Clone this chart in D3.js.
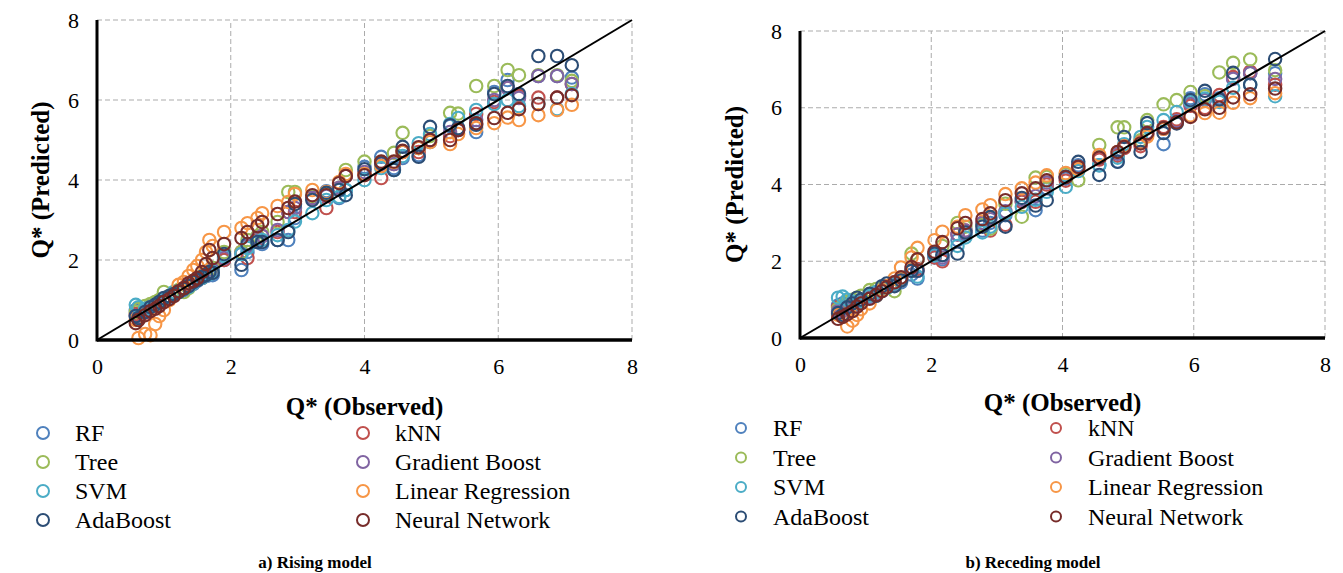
<!DOCTYPE html>
<html><head><meta charset="utf-8">
<script src="https://cdn.jsdelivr.net/npm/d3@7"></script>
<style>body{margin:0;background:#fff}svg{display:block}</style>
</head><body>
<svg id="c" width="1343" height="573"></svg>
<script>
// ---------- data ----------
const tickValues = [0, 2, 4, 6, 8];
const seriesNames = ["RF", "kNN", "Tree", "Gradient Boost", "SVM", "Linear Regression", "AdaBoost", "Neural Network"];
const seriesColors = ["#4F81BD", "#C0504D", "#9BBB59", "#8064A2", "#4BACC6", "#F79646", "#2C4D75", "#772C2A"];
const xTitle = "Q* (Observed)";
const yTitle = "Q* (Predicted)";
const captions = ["a) Rising model", "b) Receding model"];

// Rising model
const risingObserved = [0.58,0.62,0.72,0.8,0.87,0.93,1.0,1.08,1.15,1.22,1.3,1.37,1.44,1.5,1.57,1.63,1.68,1.73,1.9,2.16,2.25,2.4,2.47,2.7,2.86,2.96,3.22,3.43,3.62,3.72,4.0,4.25,4.44,4.57,4.81,4.98,5.28,5.4,5.67,5.94,6.14,6.31,6.6,6.88,7.1];
const risingRF   = [0.75,0.8,0.72,0.85,0.9,0.95,1.0,1.05,1.12,1.2,1.25,1.35,1.4,1.48,1.55,1.6,1.62,1.62,2.0,1.75,2.2,2.45,2.4,2.5,2.5,3.05,3.55,3.72,3.55,3.75,4.33,4.58,4.3,4.55,4.62,4.95,5.35,5.28,5.2,6.2,6.5,6.1,6.6,6.6,6.56];
const risingKNN  = [0.65,0.62,0.68,0.78,0.82,0.9,0.95,1.05,1.12,1.2,1.3,1.38,1.45,1.5,1.55,1.62,1.75,1.8,2.0,2.2,2.05,2.5,2.6,2.7,3.2,3.2,3.55,3.3,3.8,4.1,4.15,4.05,4.4,4.7,4.7,5.0,5.1,5.25,5.65,5.95,6.3,6.1,6.06,6.06,6.4];
const risingTree = [0.7,0.78,0.85,0.9,0.95,1.0,1.2,1.1,1.18,1.25,1.2,1.3,1.45,1.55,1.6,1.7,1.75,1.8,2.2,2.2,2.5,2.6,2.7,2.95,3.7,3.7,3.6,3.65,3.8,4.25,4.46,4.45,4.68,5.18,4.8,5.1,5.68,5.66,6.35,6.35,6.75,6.62,6.62,6.62,6.48];
const risingGB   = [0.6,0.58,0.7,0.75,0.85,0.9,1.0,1.05,1.12,1.2,1.28,1.35,1.42,1.5,1.58,1.65,1.7,1.75,2.05,2.15,2.35,2.55,2.6,2.75,3.2,3.3,3.55,3.6,3.8,4.1,4.2,4.4,4.4,4.7,4.8,5.0,5.2,5.25,5.5,6.0,6.3,6.05,6.6,6.6,6.4];
const risingSVM  = [0.88,0.82,0.78,0.82,0.88,0.92,1.02,1.08,1.2,1.22,1.28,1.32,1.42,1.5,1.55,1.62,1.65,1.7,2.1,2.15,2.3,2.45,2.5,2.62,2.75,2.96,3.17,3.5,3.58,3.75,4.0,4.3,4.25,4.6,4.92,5.15,5.4,5.55,5.75,5.9,6.0,5.85,5.9,5.77,6.15];
const risingLR   = [0.5,0.05,0.15,0.12,0.4,0.6,0.75,1.0,1.15,1.38,1.45,1.6,1.75,1.85,2.0,2.2,2.5,2.35,2.7,2.8,2.92,3.05,3.17,3.35,3.45,3.65,3.75,3.7,3.95,4.15,4.15,4.35,4.45,4.7,4.8,4.95,4.9,5.15,5.3,5.42,5.56,5.5,5.62,5.75,5.88];
const risingAda  = [0.6,0.55,0.7,0.82,0.88,0.95,1.05,1.1,1.15,1.2,1.28,1.35,1.45,1.5,1.58,1.62,1.7,1.68,2.15,1.88,2.4,2.45,2.45,2.5,2.7,3.4,3.5,3.68,3.75,3.62,4.27,4.42,4.25,4.83,4.58,5.33,5.37,5.3,5.38,6.15,6.35,6.15,7.1,7.1,6.87];
const risingNN   = [0.42,0.5,0.62,0.72,0.78,0.85,0.95,1.02,1.1,1.22,1.3,1.42,1.48,1.55,1.7,1.9,2.25,2.05,2.4,2.55,2.7,2.85,2.95,3.15,3.3,3.46,3.62,3.62,3.92,4.1,4.12,4.46,4.46,4.73,4.82,5.0,5.0,5.25,5.42,5.55,5.68,5.77,5.9,6.06,6.12];

// Receding model
const recedingObserved = [0.58,0.65,0.72,0.8,0.87,0.93,1.06,1.16,1.25,1.32,1.44,1.54,1.7,1.79,2.05,2.17,2.4,2.52,2.78,2.9,3.13,3.38,3.59,3.76,4.05,4.24,4.56,4.84,4.94,5.19,5.29,5.54,5.74,5.95,6.17,6.39,6.6,6.86,7.24];
const recedingRF   = [0.85,0.9,0.85,0.9,0.95,1.0,1.1,1.15,1.22,1.3,1.4,1.45,1.65,1.55,2.1,2.05,2.55,2.7,2.8,3.0,3.2,3.55,3.33,3.9,4.15,4.5,4.5,4.6,5.0,5.1,5.3,5.05,5.65,6.25,6.35,6.25,6.77,6.9,6.9];
const recedingKNN  = [0.8,0.75,0.75,0.85,0.9,0.95,1.05,1.15,1.25,1.35,1.45,1.5,1.75,1.8,2.1,2.0,2.7,2.8,3.0,2.8,2.95,3.55,3.55,4.0,4.1,4.4,4.65,4.75,4.95,5.0,5.3,5.5,5.7,6.05,6.0,6.33,6.8,6.94,6.6];
const recedingTree = [0.75,0.85,0.95,1.0,1.05,1.1,1.25,1.28,1.3,1.32,1.22,1.55,2.2,2.05,2.2,2.4,3.0,2.9,2.95,2.85,3.5,3.16,4.18,4.2,4.27,4.11,5.03,5.49,5.49,5.15,5.68,6.09,6.2,6.41,6.3,6.92,7.17,7.26,6.98];
const recedingGB   = [0.7,0.7,0.75,0.8,0.88,0.95,1.05,1.15,1.25,1.32,1.4,1.52,1.8,1.75,2.15,2.1,2.7,2.8,3.0,3.1,3.3,3.6,3.7,4.05,4.2,4.45,4.7,4.8,5.0,5.1,5.35,5.45,5.65,6.1,6.2,6.2,6.75,6.9,6.75];
const recedingSVM  = [1.05,1.08,1.0,0.95,0.9,0.98,1.1,1.2,1.25,1.3,1.42,1.5,1.75,1.6,2.15,2.16,2.4,2.62,2.75,2.9,3.25,3.42,3.6,3.81,3.94,4.35,4.5,4.7,5.05,5.24,5.5,5.68,5.89,6.15,6.24,6.15,6.52,6.6,6.3];
const recedingLR   = [0.6,0.55,0.3,0.45,0.6,0.75,0.9,1.1,1.25,1.35,1.55,1.84,2.1,2.35,2.55,2.77,2.9,3.2,3.35,3.46,3.75,3.9,4.05,4.24,4.3,4.4,4.77,4.85,5.0,5.1,5.25,5.45,5.6,5.8,5.86,5.87,6.13,6.25,6.38];
const recedingAda  = [0.65,0.6,0.8,0.9,1.05,1.0,1.15,1.1,1.35,1.42,1.35,1.5,1.75,1.75,2.2,2.16,2.2,2.75,2.9,3.15,2.9,3.65,3.45,3.59,4.2,4.59,4.25,4.59,5.24,4.85,5.6,5.34,5.59,6.2,6.44,6.22,6.91,6.6,7.27];
const recedingNN   = [0.5,0.55,0.62,0.7,0.82,0.9,1.02,1.12,1.22,1.32,1.45,1.58,1.85,2.05,2.25,2.5,2.86,3.0,3.1,3.25,3.59,3.77,3.9,4.11,4.19,4.46,4.7,4.85,4.98,5.07,5.34,5.47,5.62,5.76,5.96,6.0,6.27,6.35,6.5];

const risingSeries = [risingRF, risingKNN, risingTree, risingGB, risingSVM, risingLR, risingAda, risingNN];
const recedingSeries = [recedingRF, recedingKNN, recedingTree, recedingGB, recedingSVM, recedingLR, recedingAda, recedingNN];

// ---------- drawing ----------
const svg = d3.select("#c");
const serif = "'Liberation Serif', 'Times New Roman', serif";

function panel(cfg, observed, series) {
  const x = d3.scaleLinear().domain([0, 8]).range([cfg.left, cfg.right]);
  const y = d3.scaleLinear().domain([0, 8]).range([cfg.bottom, cfg.top]);
  const g = svg.append("g");

  // gridlines
  g.selectAll(".vg").data(tickValues.filter(d => d > 0)).join("line")
    .attr("x1", d => x(d)).attr("x2", d => x(d))
    .attr("y1", y(0)).attr("y2", y(8))
    .attr("stroke", "#ABABAB").attr("stroke-width", 1).attr("stroke-dasharray", "5,3");
  g.selectAll(".hg").data(tickValues.filter(d => d > 0)).join("line")
    .attr("x1", x(0)).attr("x2", x(8))
    .attr("y1", d => y(d)).attr("y2", d => y(d))
    .attr("stroke", "#ABABAB").attr("stroke-width", 1).attr("stroke-dasharray", "5,3");

  // axes
  const xAxis = d3.axisBottom(x).tickValues(tickValues).tickSize(0).tickPadding(18);
  const yAxis = d3.axisLeft(y).tickValues(tickValues).tickSize(0).tickPadding(18);
  const gx = g.append("g").attr("transform", `translate(0,${y(0)})`).call(xAxis);
  const gy = g.append("g").attr("transform", `translate(${x(0)},0)`).call(yAxis);
  [gx, gy].forEach(a => {
    a.select(".domain").remove();
    a.selectAll("text").attr("font-family", serif).attr("font-size", 22).attr("fill", "#000");
  });
  gx.selectAll("text").attr("dy", "0.71em");

  // data series
  series.forEach((vals, si) => {
    g.append("g").selectAll("circle").data(vals.map((v, i) => [observed[i], v])).join("circle")
      .attr("cx", d => x(d[0])).attr("cy", d => y(d[1])).attr("r", 6.2)
      .attr("fill", "none").attr("stroke", seriesColors[si]).attr("stroke-width", 2.1);
  });

  // axis lines
  g.append("line").attr("x1", x(0)).attr("x2", x(0)).attr("y1", y(0) + 1.5).attr("y2", y(8))
    .attr("stroke", "#000").attr("stroke-width", 3);
  g.append("line").attr("x1", x(0)).attr("x2", x(8)).attr("y1", y(0)).attr("y2", y(0))
    .attr("stroke", "#000").attr("stroke-width", 3.5);

  // 1:1 line
  g.append("line").attr("x1", x(0)).attr("y1", y(0)).attr("x2", x(8)).attr("y2", y(8))
    .attr("stroke", "#000").attr("stroke-width", 2);

  // titles
  g.append("text").attr("x", (cfg.left + cfg.right) / 2).attr("y", cfg.xTitleY)
    .attr("text-anchor", "middle").attr("font-family", serif).attr("font-weight", "bold")
    .attr("font-size", 25).text(xTitle);
  g.append("text").attr("transform", `translate(${cfg.yTitleX},${(cfg.top + cfg.bottom) / 2}) rotate(-90)`)
    .attr("text-anchor", "middle").attr("font-family", serif).attr("font-weight", "bold")
    .attr("font-size", 25).text(yTitle);

  // legend
  const lg = g.append("g");
  seriesNames.forEach((name, i) => {
    const col = i % 2, row = Math.floor(i / 2);
    const lx = cfg.legendX[col], ly = cfg.legendY + row * cfg.legendStep;
    lg.append("circle").attr("cx", lx).attr("cy", ly).attr("r", cfg.legendR)
      .attr("fill", "none").attr("stroke", seriesColors[i]).attr("stroke-width", 2);
    lg.append("text").attr("x", lx + 32).attr("y", ly).attr("dy", "0.35em")
      .attr("font-family", serif).attr("font-size", 24).attr("fill", "#000").text(name);
  });

  // caption
  g.append("text").attr("x", cfg.captionX).attr("y", 568).attr("text-anchor", "middle")
    .attr("font-family", serif).attr("font-weight", "bold").attr("font-size", 17).text(cfg.caption);
}

panel({left: 97, right: 632, top: 20, bottom: 340, xTitleY: 415, yTitleX: 49,
       legendX: [43, 363], legendY: 433, legendStep: 29, legendR: 6,
       captionX: 315, caption: captions[0]}, risingObserved, risingSeries);
panel({left: 800, right: 1325, top: 31, bottom: 338, xTitleY: 411, yTitleX: 743,
       legendX: [741, 1056], legendY: 428, legendStep: 29.5, legendR: 5,
       captionX: 1033, caption: captions[1]}, recedingObserved, recedingSeries);
</script>
</body></html>
